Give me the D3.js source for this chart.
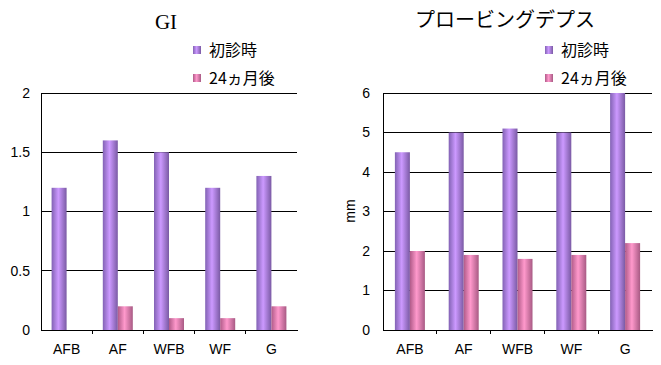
<!DOCTYPE html>
<html>
<head>
<meta charset="utf-8">
<script src="https://cdn.jsdelivr.net/npm/d3@7"></script>
<style>
  body { margin: 0; background: #fff; }
  svg text { font-family: "Liberation Sans", "Noto Sans CJK JP", sans-serif; }
</style>
</head>
<body>
<div id="chart"></div>
<script>
// data
const categories = ["AFB", "AF", "WFB", "WF", "G"];
const seriesNames = ["初診時", "24ヵ月後"];

const giFirst = [1.2, 1.6, 1.5, 1.2, 1.3];
const giAfter = [0, 0.2, 0.1, 0.1, 0.2];
const giTicks = [0, 0.5, 1, 1.5, 2];

const pdFirst = [4.5, 5.0, 5.1, 5.0, 6.0];
const pdAfter = [2.0, 1.9, 1.8, 1.9, 2.2];
const pdTicks = [0, 1, 2, 3, 4, 5, 6];

const svg = d3.select("#chart").append("svg")
    .attr("width", 661)
    .attr("height", 365);

// gradients for the cylinder look
const defs = svg.append("defs");
function addGrad(id, dark, light, dark2) {
    const g = defs.append("linearGradient").attr("id", id)
        .attr("x1", "0%").attr("x2", "100%").attr("y1", "0%").attr("y2", "0%");
    g.append("stop").attr("offset", "0%").attr("stop-color", dark);
    g.append("stop").attr("offset", "45%").attr("stop-color", light);
    g.append("stop").attr("offset", "100%").attr("stop-color", dark2);
}
addGrad("gPurple", "#8262b4", "#cc99ff", "#7a5aa4");
addGrad("gPink", "#b05a88", "#ff99cc", "#a85a84");
const fills = ["url(#gPurple)", "url(#gPink)"];

function drawChart(opt) {
    const g = svg.append("g");
    const x = d3.scaleBand().domain(categories).range([opt.left, opt.right]);
    const y = d3.scaleLinear().domain([0, opt.yMax]).range([330, 93]);

    // grid lines
    g.selectAll(".grid").data(opt.ticks.filter(d => d > 0)).join("line")
        .attr("x1", opt.left).attr("x2", opt.right)
        .attr("y1", d => y(d)).attr("y2", d => y(d))
        .attr("stroke", "#000").attr("stroke-width", 1)
        .attr("shape-rendering", "crispEdges");

    // y axis
    const yAxis = g.append("g")
        .attr("transform", `translate(${opt.left},0)`)
        .call(d3.axisLeft(y).tickValues(opt.ticks).tickFormat(d => String(d))
            .tickSize(0).tickPadding(opt.pad));
    yAxis.select(".domain").attr("shape-rendering", "crispEdges");
    yAxis.selectAll("text").attr("font-size", 14).attr("fill", "#000");

    // bars
    const bw = 15;
    const series = [opt.first, opt.after];
    series.forEach((vals, si) => {
        g.selectAll(".bar" + si).data(vals).join("rect")
            .attr("x", (d, i) => x(categories[i]) + x.bandwidth() / 2 - bw + si * bw)
            .attr("y", d => y(d))
            .attr("width", bw)
            .attr("height", d => y(0) - y(d))
            .attr("fill", fills[si]);
    });

    // x axis
    const xAxis = g.append("g")
        .attr("transform", "translate(0,330)")
        .call(d3.axisBottom(x).tickSize(0).tickPadding(14));
    xAxis.select(".domain").attr("shape-rendering", "crispEdges");
    xAxis.selectAll("text").attr("font-size", 14).attr("fill", "#000");
    // separators between categories
    g.selectAll(".sep").data(categories.slice(1)).join("line")
        .attr("x1", d => x(d)).attr("x2", d => x(d))
        .attr("y1", 330).attr("y2", 334)
        .attr("stroke", "#000").attr("shape-rendering", "crispEdges");

    // title
    g.append("text")
        .attr("x", opt.titleX).attr("y", opt.titleY)
        .attr("text-anchor", "middle")
        .attr("font-size", opt.titleSize)
        .style("font-family", opt.titleFont)
        .text(opt.title);

    // legend
    seriesNames.forEach((name, i) => {
        const ly = 46 + i * 28;
        g.append("rect")
            .attr("x", opt.legendX).attr("y", ly)
            .attr("width", 8).attr("height", 8)
            .attr("fill", fills[i]);
        g.append("text")
            .attr("x", opt.legendX + 16).attr("y", ly + 10)
            .attr("font-size", 16)
            .style("font-family", "'Noto Sans CJK JP', sans-serif")
            .text(name);
    });

    if (opt.yLabel) {
        g.append("text")
            .attr("transform", `translate(355,211) rotate(-90)`)
            .attr("text-anchor", "middle")
            .attr("font-size", 14)
            .text(opt.yLabel);
    }
}

drawChart({
    left: 41, right: 297, yMax: 2, ticks: giTicks, pad: 11,
    first: giFirst, after: giAfter,
    title: "GI", titleX: 166, titleY: 29, titleSize: 21,
    titleFont: "'Liberation Serif', serif",
    legendX: 193
});

drawChart({
    left: 383, right: 652, yMax: 6, ticks: pdTicks, pad: 13,
    first: pdFirst, after: pdAfter,
    title: "プロービングデプス", titleX: 505, titleY: 27, titleSize: 20,
    titleFont: "'Noto Sans CJK JP', sans-serif",
    legendX: 545, yLabel: "mm"
});
</script>
</body>
</html>
